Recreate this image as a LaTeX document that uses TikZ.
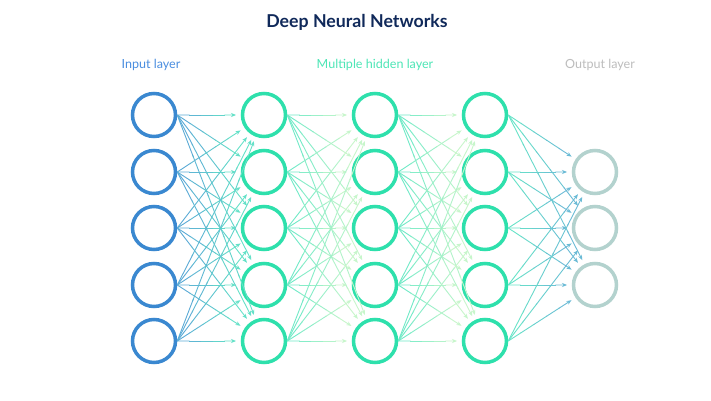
\documentclass[tikz,border=0pt]{standalone}
\usepackage{fontspec}
\setmainfont{Lato}
\usetikzlibrary{calc,arrows.meta}
\definecolor{inblue}{HTML}{3A88D0}
\definecolor{hidgreen}{HTML}{2EE0AC}
\definecolor{outgrey}{HTML}{B3D2CE}
\definecolor{titlenavy}{HTML}{10295A}
\definecolor{lineblue}{HTML}{5AA4D8}
\definecolor{lineteal}{HTML}{66E8C6}
\definecolor{linepale}{HTML}{D2F8CC}
\definecolor{lineout}{HTML}{6CB6D8}
\definecolor{lblblue}{HTML}{4A8EE0}
\definecolor{lblgreen}{HTML}{4DE6B6}
\definecolor{lblgrey}{HTML}{BDBDBD}
\newcommand\gradconn[4]{%
  \coordinate (s) at (#1.east);
  \coordinate (e) at ($(#2.center)!28bp!(s)$);
  \foreach \k in {0,...,3}{%
    \pgfmathtruncatemacro\pct{100-(\k*20+10)}
    \draw[conn, color=#3!\pct!#4] ($(s)!{\k/5}!(e)$) -- ($(s)!{(\k+1)/5+0.01}!(e)$);
  }
  \draw[conn, color=#4!90!#3, -{Stealth[length=5bp,width=4bp]}] ($(s)!0.8!(e)$) -- (e);
}
\begin{document}
\begin{tikzpicture}[x=1bp,y=1bp,
  neuron/.style={circle,draw,line width=3.5bp,minimum size=43bp,inner sep=0pt,fill=white},
  conn/.style={line width=0.9bp},
  lbl/.style={font=\fontsize{12.6}{15}\selectfont, inner sep=0pt}]
\useasboundingbox (0,0) rectangle (711,400);
\fill[white] (0,0) rectangle (711,400);
\node[font=\bfseries\fontsize{17.8}{21}\selectfont, text=titlenavy, inner sep=0pt] (title) at (357,378) {Deep Neural Networks};
\node[lbl, text=lblblue] (linput) at (151,335) {Input layer};
\node[lbl, text=lblgreen] (lhidden) at (375,335) {Multiple hidden layer};
\node[lbl, text=lblgrey] (loutput) at (600,335) {Output layer};
\foreach \i/\y in {1/115,2/172,3/228,4/285,5/341}{
  \node[neuron, draw=inblue] (i\i) at (154,{400-\y}) {};
  \node[neuron, draw=hidgreen] (a\i) at (264,{400-\y}) {};
  \node[neuron, draw=hidgreen] (b\i) at (375,{400-\y}) {};
  \node[neuron, draw=hidgreen] (c\i) at (485,{400-\y}) {};
}
\foreach \i/\y in {1/172,2/228,3/285}{
  \node[neuron, draw=outgrey] (o\i) at (595,{400-\y}) {};
}
\foreach \s in {1,...,5}{
  \foreach \t in {1,...,5}{
    \gradconn{i\s}{a\t}{lineblue}{lineteal}
    \gradconn{a\s}{b\t}{lineteal}{linepale}
    \gradconn{b\s}{c\t}{lineteal}{linepale}
  }
  \foreach \t in {1,...,3}{
    \gradconn{c\s}{o\t}{lineteal}{lineout}
  }
}
\end{tikzpicture}
\end{document}
